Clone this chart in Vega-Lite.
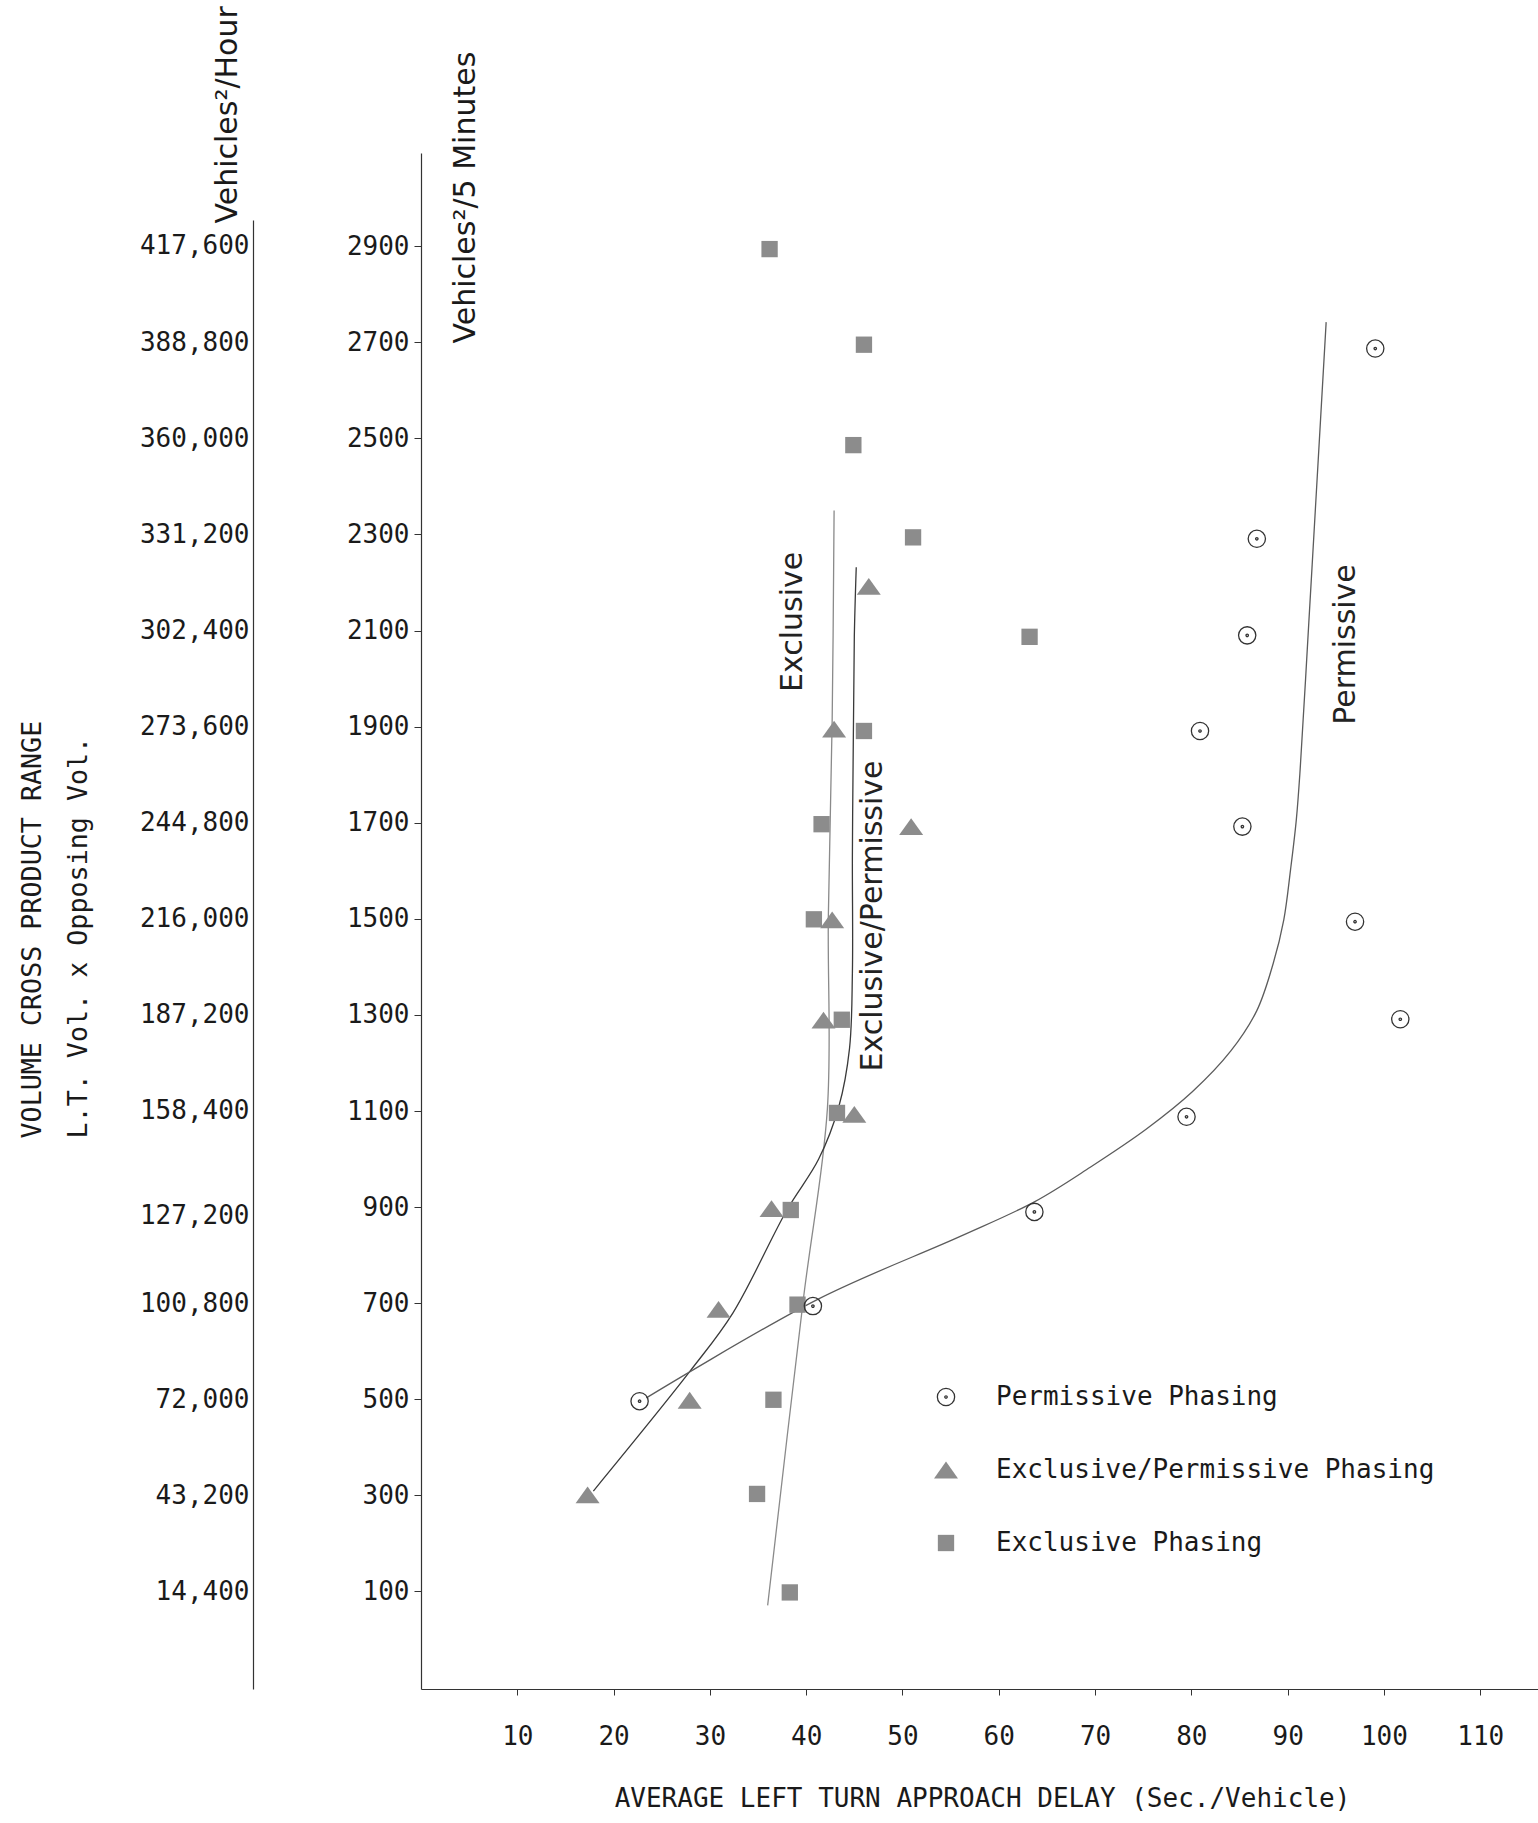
{
  "$schema": "https://vega.github.io/schema/vega-lite/v6.json",
  "width": 1117,
  "height": 1536,
  "autosize": {"type": "none"},
  "padding": {"left": 421, "top": 153, "right": 0, "bottom": 134},
  "background": "white",
  "datasets": {
    "obs": [
      {"series": "Exclusive Phasing", "x": 36.2, "y": 2894},
      {"series": "Exclusive Phasing", "x": 46.0, "y": 2695},
      {"series": "Exclusive Phasing", "x": 44.9, "y": 2486},
      {"series": "Exclusive Phasing", "x": 51.1, "y": 2294},
      {"series": "Exclusive Phasing", "x": 63.2, "y": 2087},
      {"series": "Exclusive Phasing", "x": 46.0, "y": 1891},
      {"series": "Exclusive Phasing", "x": 41.6, "y": 1697},
      {"series": "Exclusive Phasing", "x": 40.8, "y": 1499},
      {"series": "Exclusive Phasing", "x": 43.7, "y": 1290},
      {"series": "Exclusive Phasing", "x": 43.2, "y": 1096},
      {"series": "Exclusive Phasing", "x": 38.4, "y": 894},
      {"series": "Exclusive Phasing", "x": 39.1, "y": 697},
      {"series": "Exclusive Phasing", "x": 36.6, "y": 499},
      {"series": "Exclusive Phasing", "x": 34.9, "y": 303},
      {"series": "Exclusive Phasing", "x": 38.3, "y": 98},
      {"series": "Exclusive/Permissive Phasing", "x": 46.5, "y": 2192},
      {"series": "Exclusive/Permissive Phasing", "x": 42.9, "y": 1895},
      {"series": "Exclusive/Permissive Phasing", "x": 50.9, "y": 1692},
      {"series": "Exclusive/Permissive Phasing", "x": 42.7, "y": 1498},
      {"series": "Exclusive/Permissive Phasing", "x": 41.8, "y": 1289},
      {"series": "Exclusive/Permissive Phasing", "x": 45.0, "y": 1093},
      {"series": "Exclusive/Permissive Phasing", "x": 36.4, "y": 897},
      {"series": "Exclusive/Permissive Phasing", "x": 30.9, "y": 687},
      {"series": "Exclusive/Permissive Phasing", "x": 27.9, "y": 498},
      {"series": "Exclusive/Permissive Phasing", "x": 17.3, "y": 301},
      {"series": "Permissive Phasing", "x": 99.1, "y": 2687},
      {"series": "Permissive Phasing", "x": 86.8, "y": 2291},
      {"series": "Permissive Phasing", "x": 85.8, "y": 2090},
      {"series": "Permissive Phasing", "x": 80.9, "y": 1891},
      {"series": "Permissive Phasing", "x": 85.3, "y": 1692},
      {"series": "Permissive Phasing", "x": 97.0, "y": 1494},
      {"series": "Permissive Phasing", "x": 101.7, "y": 1291},
      {"series": "Permissive Phasing", "x": 79.5, "y": 1088},
      {"series": "Permissive Phasing", "x": 63.7, "y": 890},
      {"series": "Permissive Phasing", "x": 40.7, "y": 694},
      {"series": "Permissive Phasing", "x": 22.7, "y": 496}
    ],
    "curves": [
      {"curve": "Exclusive", "i": 1, "x": 36.0, "y": 71},
      {"curve": "Exclusive", "i": 2, "x": 39.7, "y": 707},
      {"curve": "Exclusive", "i": 3, "x": 42.2, "y": 1104},
      {"curve": "Exclusive", "i": 4, "x": 42.3, "y": 1502},
      {"curve": "Exclusive", "i": 5, "x": 42.7, "y": 1914},
      {"curve": "Exclusive", "i": 6, "x": 42.9, "y": 2350},
      {"curve": "Exclusive/Permissive", "i": 1, "x": 17.9, "y": 309},
      {"curve": "Exclusive/Permissive", "i": 2, "x": 28.0, "y": 560},
      {"curve": "Exclusive/Permissive", "i": 3, "x": 32.4, "y": 680},
      {"curve": "Exclusive/Permissive", "i": 4, "x": 38.0, "y": 894},
      {"curve": "Exclusive/Permissive", "i": 5, "x": 41.3, "y": 1000},
      {"curve": "Exclusive/Permissive", "i": 6, "x": 43.4, "y": 1110},
      {"curve": "Exclusive/Permissive", "i": 7, "x": 44.5, "y": 1230},
      {"curve": "Exclusive/Permissive", "i": 8, "x": 44.8, "y": 1387},
      {"curve": "Exclusive/Permissive", "i": 9, "x": 44.8, "y": 1634},
      {"curve": "Exclusive/Permissive", "i": 10, "x": 44.9, "y": 1882},
      {"curve": "Exclusive/Permissive", "i": 11, "x": 45.0, "y": 2088},
      {"curve": "Exclusive/Permissive", "i": 12, "x": 45.2, "y": 2232},
      {"curve": "Permissive", "i": 1, "x": 23.4, "y": 503},
      {"curve": "Permissive", "i": 2, "x": 41.2, "y": 708},
      {"curve": "Permissive", "i": 3, "x": 56.0, "y": 839},
      {"curve": "Permissive", "i": 4, "x": 63.7, "y": 911},
      {"curve": "Permissive", "i": 5, "x": 69.5, "y": 983},
      {"curve": "Permissive", "i": 6, "x": 75.3, "y": 1062},
      {"curve": "Permissive", "i": 7, "x": 80.1, "y": 1140},
      {"curve": "Permissive", "i": 8, "x": 84.1, "y": 1225},
      {"curve": "Permissive", "i": 9, "x": 86.8, "y": 1309},
      {"curve": "Permissive", "i": 10, "x": 88.5, "y": 1407},
      {"curve": "Permissive", "i": 11, "x": 89.6, "y": 1498},
      {"curve": "Permissive", "i": 12, "x": 90.3, "y": 1602},
      {"curve": "Permissive", "i": 13, "x": 90.9, "y": 1706},
      {"curve": "Permissive", "i": 14, "x": 91.3, "y": 1811},
      {"curve": "Permissive", "i": 15, "x": 92.2, "y": 2117},
      {"curve": "Permissive", "i": 16, "x": 93.0, "y": 2394},
      {"curve": "Permissive", "i": 17, "x": 94.0, "y": 2742}
    ],
    "labels": [
      {"label": "Exclusive", "x": 38.6, "y": 2118},
      {"label": "Exclusive/Permissive", "x": 46.9, "y": 1506},
      {"label": "Permissive", "x": 96.1, "y": 2071}
    ],
    "hour": [
      {"h": 14400}, {"h": 43200}, {"h": 72000}, {"h": 100800}, {"h": 127200},
      {"h": 158400}, {"h": 187200}, {"h": 216000}, {"h": 244800}, {"h": 273600},
      {"h": 302400}, {"h": 331200}, {"h": 360000}, {"h": 388800}, {"h": 417600}
    ]
  },
  "layer": [
    {
      "encoding": {
        "x": {
          "field": "x",
          "type": "quantitative",
          "scale": {"domain": [0, 116], "nice": false, "zero": false},
          "axis": {
            "values": [10, 20, 30, 40, 50, 60, 70, 80, 90, 100, 110],
            "grid": false,
            "labelFont": "DejaVu Sans Mono",
            "labelFontSize": 26,
            "labelPadding": 28,
            "labelDx": 5,
            "labelFlush": false,
            "labelOverlap": false,
            "tickSize": 6,
            "domainWidth": 1.2,
            "title": "AVERAGE LEFT TURN APPROACH DELAY (Sec./Vehicle)",
            "titleFont": "DejaVu Sans Mono",
            "titleFontSize": 26,
            "titleFontWeight": "normal",
            "titleX": 561,
            "titleY": 109,
            "titleAlign": "center",
            "titleBaseline": "middle"
          }
        },
        "y": {
          "field": "y",
          "type": "quantitative",
          "scale": {"domain": [-103, 3094], "nice": false, "zero": false},
          "axis": {
            "orient": "left",
            "values": [100, 300, 500, 700, 900, 1100, 1300, 1500, 1700, 1900, 2100, 2300, 2500, 2700, 2900],
            "format": "d",
            "grid": false,
            "labelFont": "DejaVu Sans Mono",
            "labelFontSize": 26,
            "labelPadding": 5,
            "labelOverlap": false,
            "tickSize": 7,
            "domainWidth": 1.2,
            "title": "Vehicles²/5 Minutes",
            "titleFont": "DejaVu Sans",
            "titleFontSize": 30,
            "titleFontWeight": "normal",
            "titleAngle": 270,
            "titleAlign": "left",
            "titleBaseline": "alphabetic",
            "titleX": 53,
            "titleY": 190
          }
        }
      },
      "layer": [
        {
          "data": {"name": "curves"},
          "mark": {"type": "line", "interpolate": "catmull-rom", "strokeWidth": 1.3},
          "encoding": {
            "order": {"field": "i", "type": "quantitative"},
            "detail": {"field": "curve", "type": "nominal"},
            "color": {
              "field": "curve",
              "type": "nominal",
              "scale": {"domain": ["Exclusive", "Exclusive/Permissive", "Permissive"], "range": ["#8a8a8a", "#3a3a3a", "#5c5c5c"]},
              "legend": null
            }
          }
        },
        {
          "data": {"name": "obs"},
          "mark": {"type": "point", "opacity": 1, "strokeWidth": 1.3, "size": 576},
          "encoding": {
            "shape": {
              "field": "series",
              "type": "nominal",
              "scale": {
                "domain": ["Permissive Phasing", "Exclusive/Permissive Phasing", "Exclusive Phasing"],
                "range": [
                  "M-0.72,0A0.72,0.72,0,1,1,0.72,0A0.72,0.72,0,1,1,-0.72,0ZM-0.1,0A0.1,0.1,0,1,1,0.1,0A0.1,0.1,0,1,1,-0.1,0Z",
                  "M0,-0.7L1,0.7L-1,0.7Z",
                  "M-0.68,-0.68L0.68,-0.68L0.68,0.68L-0.68,0.68Z"
                ]
              },
              "legend": {"title": null, "orient": "none", "legendX": 512, "legendY": 1231}
            },
            "fill": {
              "field": "series",
              "type": "nominal",
              "scale": {
                "domain": ["Permissive Phasing", "Exclusive/Permissive Phasing", "Exclusive Phasing"],
                "range": ["transparent", "#8c8c8c", "#8c8c8c"]
              },
              "legend": {"title": null, "orient": "none", "legendX": 512, "legendY": 1231}
            },
            "stroke": {
              "field": "series",
              "type": "nominal",
              "scale": {
                "domain": ["Permissive Phasing", "Exclusive/Permissive Phasing", "Exclusive Phasing"],
                "range": ["#333333", "transparent", "transparent"]
              },
              "legend": {"title": null, "orient": "none", "legendX": 512, "legendY": 1231}
            }
          }
        },
        {
          "data": {"name": "labels"},
          "mark": {"type": "text", "angle": 270, "font": "DejaVu Sans", "fontSize": 30, "color": "#222222", "align": "center", "baseline": "middle"},
          "encoding": {"text": {"field": "label", "type": "nominal"}}
        }
      ]
    },
    {
      "data": {"name": "hour"},
      "mark": {"type": "point", "opacity": 0},
      "encoding": {
        "y": {
          "field": "h",
          "type": "quantitative",
          "scale": {"domain": [-14832, 425376], "range": [1536, 67], "nice": false, "zero": false},
          "axis": {
            "orient": "left",
            "offset": 168,
            "values": [14400, 43200, 72000, 100800, 127200, 158400, 187200, 216000, 244800, 273600, 302400, 331200, 360000, 388800, 417600],
            "format": ",d",
            "grid": false,
            "ticks": false,
            "tickSize": 0,
            "labelFont": "DejaVu Sans Mono",
            "labelFontSize": 26,
            "labelPadding": 4,
            "labelOverlap": false,
            "domainWidth": 1.2,
            "title": "Vehicles²/Hour",
            "titleFont": "DejaVu Sans",
            "titleFontSize": 30,
            "titleFontWeight": "normal",
            "titleAngle": 270,
            "titleAlign": "left",
            "titleBaseline": "alphabetic",
            "titleX": -17,
            "titleY": 70
          }
        }
      }
    },
    {
      "data": {"name": "hour"},
      "mark": {"type": "point", "opacity": 0},
      "encoding": {
        "y": {
          "field": "h",
          "type": "quantitative",
          "scale": {"domain": [0, 500000], "nice": false, "zero": false},
          "axis": {
            "orient": "left",
            "offset": 0,
            "domain": false,
            "ticks": false,
            "labels": false,
            "grid": false,
            "title": ["VOLUME CROSS PRODUCT RANGE", "L.T. Vol. x Opposing Vol."],
            "titleFont": "DejaVu Sans Mono",
            "titleFontSize": 26.7,
            "titleFontWeight": "normal",
            "titleAngle": 270,
            "titleAlign": "left",
            "titleBaseline": "alphabetic",
            "titleLineHeight": 46.5,
            "titleX": -381,
            "titleY": 985
          }
        }
      }
    }
  ],
  "resolve": {"scale": {"y": "independent"}, "axis": {"y": "independent"}},
  "config": {
    "view": {"stroke": null},
    "axis": {"labelColor": "#1a1a1a", "titleColor": "#1a1a1a", "domainColor": "#333333", "tickColor": "#333333"},
    "legend": {
      "labelFont": "DejaVu Sans Mono",
      "labelFontSize": 26,
      "labelColor": "#1a1a1a",
      "labelLimit": 0,
      "labelOffset": 37,
      "rowPadding": 47,
      "padding": 0,
      "symbolSize": 576,
      "symbolStrokeWidth": 1.3
    }
  }
}
